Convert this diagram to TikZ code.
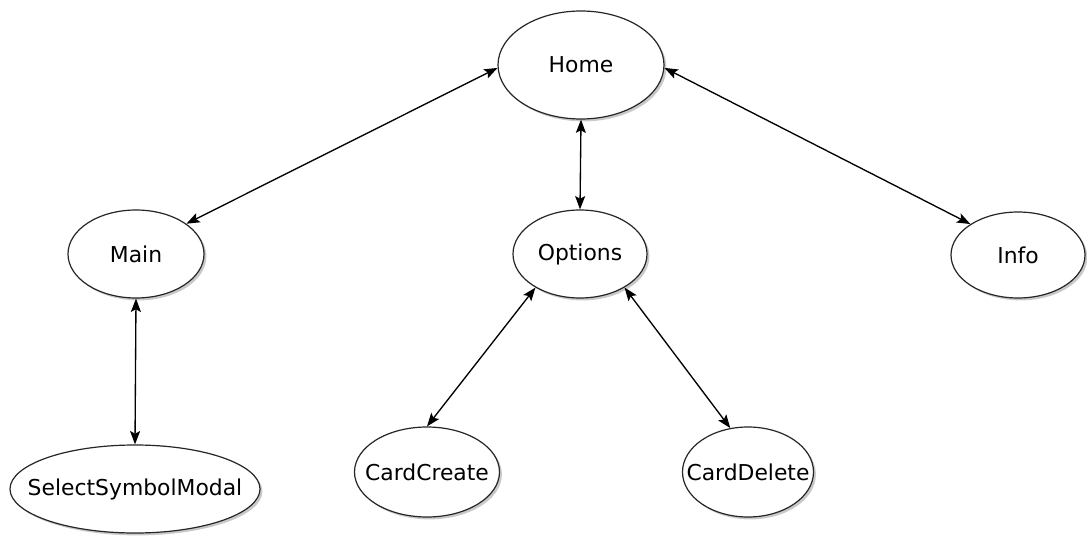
\documentclass[tikz,border=0pt]{standalone}
\usepackage{fontspec}
\setmainfont{DejaVu Sans}
\usetikzlibrary{shapes.geometric,arrows.meta,shadows}
\begin{document}
\begin{tikzpicture}[x=0.75pt,y=-0.75pt,
  st/.style={ellipse,draw=black!85,line width=0.9pt,fill=white,inner sep=0pt,
    drop shadow={shadow xshift=1.8pt,shadow yshift=-1.8pt,opacity=0.35,fill=black!60}},
  lbl/.style={inner sep=0pt,font=\fontsize{16.4pt}{19pt}\selectfont},
  tip/.style={Stealth[length=10pt,width=7.5pt,inset=2pt]},
  link/.style={line width=1pt,{Stealth[length=10pt,width=7.5pt,inset=2pt]}-{Stealth[length=10pt,width=7.5pt,inset=2pt]}}]
\useasboundingbox[fill=white] (0,0) rectangle (1087,538);
\node[st,minimum width=124.5pt,minimum height=81pt] (home) at (581,65) {};
\node[st,minimum width=102pt,minimum height=66pt] (main) at (136,254) {};
\node[st,minimum width=100.5pt,minimum height=66pt] (options) at (580,254) {};
\node[st,minimum width=100.5pt,minimum height=64.5pt] (info) at (1018,255) {};
\node[st,minimum width=187.5pt,minimum height=66pt] (ssm) at (135,489) {};
\node[st,minimum width=108.75pt,minimum height=67.5pt] (cc) at (427,472) {};
\node[st,minimum width=98.25pt,minimum height=67.5pt] (cd) at (748,472) {};
\node[lbl] (homet) at (home) {Home};
\node[lbl] (maint) at (main) {Main};
\node[lbl] (optionst) at (options) {Options};
\node[lbl] (infot) at (info) {Info};
\node[lbl] (ssmt) at (ssm) {SelectSymbolModal};
\node[lbl] (cct) at (cc) {CardCreate};
\node[lbl] (cdt) at (cd) {CardDelete};
\draw[link] (home.182) -- (main.31);
\draw[link] (home.south) -- (options.north);
\draw[link] (home.358) -- (info.147);
\draw[link] (main.south) -- (ssm.north);
\draw[link] (options.217) -- (cc.north);
\draw[link] (options.323) -- (cd.112);
\end{tikzpicture}
\end{document}
